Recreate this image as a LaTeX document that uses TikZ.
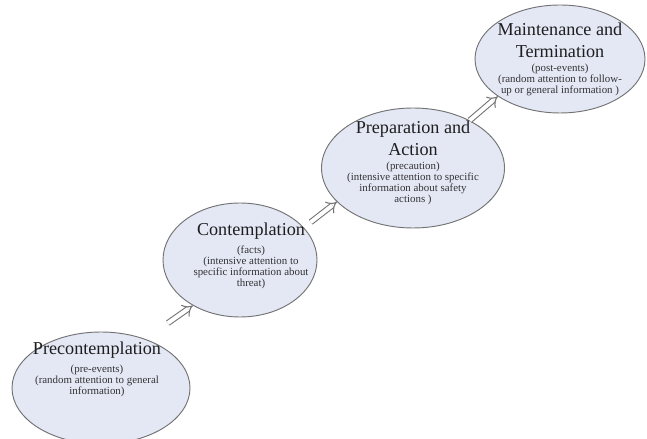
\documentclass[tikz,border=0pt]{standalone}
\usepackage{fontspec}
\setmainfont{Liberation Serif}
\usetikzlibrary{arrows.meta,positioning,shapes.geometric}

\definecolor{mStageFill}{HTML}{E4E8F5}
\definecolor{mStageLine}{HTML}{737373}
\definecolor{mTitle}{HTML}{1E1E1E}
\definecolor{mDetail}{HTML}{333333}

\tikzset{
  stage/.style={ellipse, draw=mStageLine, fill=mStageFill, line width=0.8pt, inner sep=0pt},
  stagetitle/.style={align=center, inner sep=0pt, text=mTitle, font=\fontsize{15.5}{18.7}\selectfont},
  stagedetail/.style={align=center, inner sep=0pt, text=mDetail, font=\fontsize{9.3}{9.6}\selectfont},
  flow/.style={draw=mStageLine, double=white, double distance=3.4pt, line width=0.9pt, -{Implies[scale=2]}}
}

\begin{document}
\begin{tikzpicture}

\useasboundingbox (0, 0) rectangle (19.41, 13.14);

% stages
\node[stage, minimum width=5.34cm, minimum height=3.36cm] (pre) at (3.03, 1.50) {};
\node[stage, minimum width=4.62cm, minimum height=3.42cm] (con) at (7.20, 5.34) {};
\node[stage, minimum width=5.49cm, minimum height=3.60cm] (prep) at (12.39, 8.10) {};
\node[stage, minimum width=5.10cm, minimum height=3.24cm] (main) at (16.80, 11.37) {};

% texts
\node[stagetitle] (preTitle) at (2.91, 2.64) {Precontemplation};
\node[stagedetail, below=5pt of preTitle] (preInfo) {(pre-events)\\(random attention to general\\information)};

\node[stagetitle] (conTitle) at (7.53, 6.21) {Contemplation};
\node[stagedetail, below=5pt of conTitle] (conInfo) {(facts)\\(intensive attention to\\specific information about\\threat)};

\node[stagetitle] (prepTitle) at (12.39, 9.00) {Preparation and\\Action};
\node[stagedetail, below=5pt of prepTitle] (prepInfo) {(precaution)\\(intensive attention to specific\\information about safety\\actions )};

\node[stagetitle] (mainTitle) at (16.80, 11.94) {Maintenance and\\Termination};
\node[stagedetail, below=5pt of mainTitle] (mainInfo) {(post-events)\\(random attention to follow-\\up or general information )};

% arrows
\draw[flow, shorten <=0.83cm] (pre.48) -- (con.224);
\draw[flow, shorten <=0.26cm] (con.27) -- (prep.204);
\draw[flow] (prep.40) -- (main.211);

\end{tikzpicture}
\end{document}
